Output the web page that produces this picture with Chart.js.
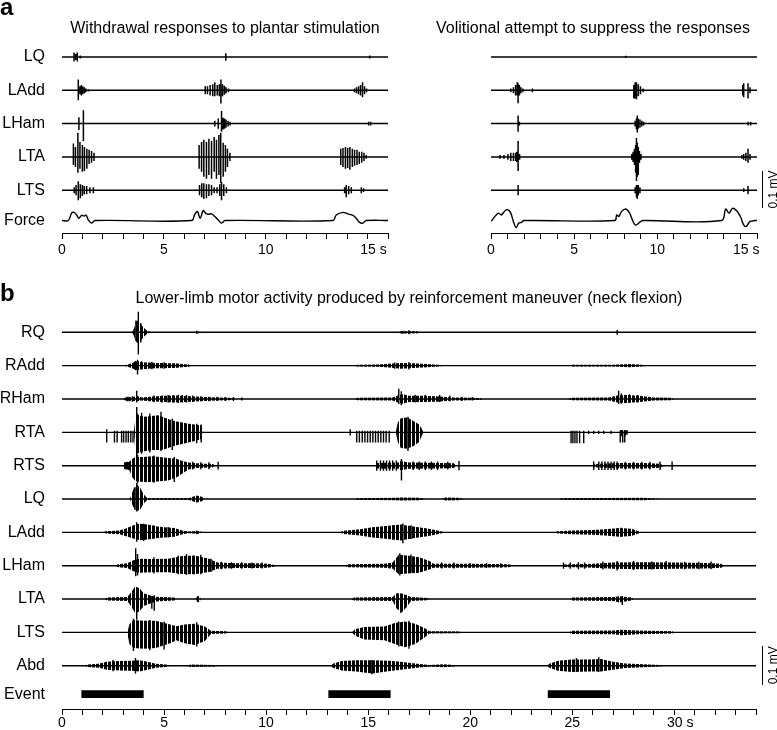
<!DOCTYPE html>
<html>
<head>
<meta charset="utf-8">
<script src="https://cdn.jsdelivr.net/npm/chart.js@4.4.1/dist/chart.umd.min.js"></script>
<style>
  body { margin: 0; background: #fff; width: 777px; height: 730px; position: relative; overflow: hidden;
         font-family: "Liberation Sans", Arial, sans-serif; color: #000; }
  canvas { position: absolute; }
  .ttl { position: absolute; font-size: 16px; line-height: 16px; text-align: center; white-space: nowrap; z-index: 2; }
  .lbl { position: absolute; font-size: 24px; line-height: 24px; font-weight: bold; z-index: 2; }
</style>
</head>
<body>
<div class="lbl" style="left:0px;top:-5px">a</div>
<div class="ttl" style="left:62px;width:326px;top:20px">Withdrawal responses to plantar stimulation</div>
<div class="ttl" style="left:429px;width:328px;top:20px">Volitional attempt to suppress the responses</div>
<div class="lbl" style="left:0px;top:281px">b</div>
<div class="ttl" style="left:62px;width:694px;top:290px">Lower-limb motor activity produced by reinforcement maneuver (neck flexion)</div>

<canvas id="wd" width="400" height="265" style="left:0;top:0"></canvas>
<canvas id="sp" width="377" height="265" style="left:400px;top:0"></canvas>
<canvas id="rf" width="777" height="430" style="left:0;top:300px"></canvas>

<script>
// ---- panel a: rows, time axis (s), amplitudes in µV ----
const rowsA = ["LQ", "LAdd", "LHam", "LTA", "LTS", "Force"];
const baseA = [0, -90, -180, -270, -360, -442];
const xValsA = [0, 5, 10, 15];
const xLabelsA = ["0", "5", "10", "15 s"];

// spikes: [time s, up µV, down µV]
const wdLQ = [[0.59,12,12],[0.67,8,8],[0.75,12,12],[0.9,4,4],[8.04,10,10],[15.1,4,4]];
const wdLAdd = [[0.8,29,27],[0.88,11,11],[0.95,14,14],[1.02,11,11],[1.1,8,8],[1.17,5,5],[1.3,3,3],
  [7.03,11,11],[7.14,11,11],[7.27,14,14],[7.4,16,16],[7.5,22,16],[7.62,14,14],[7.72,16,16],[7.8,29,36],
  [7.88,16,16],[7.97,12,12],[8.05,8,8],[8.17,5,5],
  [14.35,5,5],[14.45,8,8],[14.55,11,11],[14.65,14,14],[14.75,22,19],[14.85,11,11],[14.95,5,5]];
const wdLHam = [[0.83,17,17],[1.05,36,47],[7.5,8,8],[7.67,14,14],[7.83,34,22],[7.9,16,16],[7.97,14,14],
  [8.05,11,11],[8.15,8,8],[8.25,5,5],[15.05,5,5],[15.15,5,5]];
const wdLTA = [[0.56,36,22],[0.66,27,27],[0.78,65,43],[0.88,40,32],[1.0,32,40],[1.1,27,38],[1.22,22,32],
  [1.33,19,19],[1.45,16,16],[1.57,11,11],
  [6.73,32,32],[6.85,40,40],[6.96,46,54],[7.09,40,59],[7.21,49,49],[7.34,43,59],[7.47,54,40],[7.58,46,59],
  [7.7,59,49],[7.79,65,70],[7.91,38,54],[8.02,32,40],[8.12,22,27],[8.24,11,11],
  [13.68,22,22],[13.79,24,27],[13.91,27,32],[14.02,24,30],[14.13,27,35],[14.25,22,27],[14.36,19,24],
  [14.48,19,22],[14.59,14,19],[14.71,14,16],[14.82,11,11],[14.93,5,5]];
const wdLTS = [[0.6,8,8],[0.69,14,14],[0.8,24,27],[0.9,16,22],[1.0,14,16],[1.09,11,11],[1.21,11,11],
  [1.37,8,8],[1.54,8,8],
  [6.75,14,14],[6.86,19,19],[6.96,19,24],[7.09,16,22],[7.21,16,16],[7.34,14,14],[7.47,8,8],[7.61,8,8],
  [7.74,16,16],[7.83,22,27],[7.94,16,16],[8.07,8,8],
  [13.87,8,8],[13.95,14,19],[14.07,11,11],[14.2,8,8],[14.69,8,8],[14.8,5,5]];
// force: [time s, deflection]
const wdForce = [[0,0],[0.31,0],[0.47,20],[0.59,22],[0.72,15],[0.83,6],[0.96,14],[1.09,12],[1.18,15],
  [1.29,2],[1.45,-7],[1.62,0],[6.36,0],[6.52,17],[6.65,24],[6.78,6],[6.93,27],[7.04,20],[7.17,17],
  [7.34,18],[7.5,11],[7.66,2],[7.83,-7],[8.0,0],[13.3,0],[13.46,15],[13.79,22],[14.03,18],[14.28,14],
  [14.44,6],[14.6,-5],[14.77,-7],[14.93,0],[16,0]];

const spLQ = [[8.1,3,3]];
const spLAdd = [[1.19,5,5],[1.35,8,8],[1.48,14,14],[1.58,22,14],[1.63,19,35],[1.71,14,14],[1.8,8,8],
  [1.92,5,5],[2.49,5,5],[8.59,14,22],[8.67,22,22],[8.75,22,24],[8.86,16,16],[8.99,11,11],[9.15,5,5],
  [15.14,14,14],[15.2,19,19],[15.46,19,22],[15.58,8,8]];
const spLHam = [[1.63,22,22],[1.71,5,5],[8.67,8,8],[8.75,14,16],[8.8,22,24],[8.86,14,14],[8.96,11,11],
  [9.07,8,8],[9.18,5,5],[15.46,5,5],[15.62,5,5]];
const spLTA = [[0.54,5,5],[0.78,5,5],[1.02,8,8],[1.19,11,11],[1.35,11,11],[1.48,11,11],[1.55,14,14],
  [1.63,43,38],[1.72,8,8],[8.47,8,8],[8.55,14,14],[8.63,22,22],[8.7,32,43],[8.75,51,65],[8.8,38,54],
  [8.86,27,49],[8.93,16,16],[9.02,8,8],[15.09,5,5],[15.2,8,8],[15.33,11,11],[15.46,22,16],[15.58,8,8]];
const spLTS = [[1.63,14,14],[8.67,8,8],[8.75,14,19],[8.8,14,24],[8.86,14,14],[8.96,8,8],[15.2,5,5],[15.46,11,11]];
const spForce = [[0,0],[0.05,0],[0.29,14],[0.46,20],[0.62,15],[0.86,27],[1.03,29],[1.19,20],[1.35,-3],
  [1.51,-19],[1.67,-7],[1.84,-5],[1.97,0],[7.45,0],[7.56,15],[7.69,11],[7.85,24],[8.1,31],[8.34,20],
  [8.5,2],[8.67,-12],[8.83,-9],[8.99,-3],[9.15,0],[13.87,0],[14.11,31],[14.32,20],[14.52,33],[14.76,27],
  [15.0,11],[15.2,-12],[15.36,-16],[15.57,-3],[15.9,0],[16,0]];

// ---- panel b ----
const rowsB = ["RQ", "RAdd", "RHam", "RTA", "RTS", "LQ", "LAdd", "LHam", "LTA", "LTS", "Abd", "Event"];
const baseB = [0, -85.5, -171, -256.5, -342, -427.5, -513, -598.5, -684, -769.5, -855, -927.8];
const xValsB = [0, 5, 10, 15, 20, 25, 30];
const xLabelsB = ["0", "5", "10", "15", "20", "25", "30 s"];
const eventBars = [[0.95, 4.0], [13.05, 16.1], [23.8, 26.85]];

// envelopes: [time s, upper µV, lower µV]
const rfRQspk = [[3.74,53,57],[3.62,30,22],[3.86,24,26],[6.6,4,4],[16.7,4,4],[17.0,5,5],[17.4,3,3],[27.2,6,6]];
const rfRQenv = [[3.4,0,0],[3.48,4,4],[3.56,15,15],[3.66,30,26],[3.78,27,28],[3.9,18,19],[4.0,12,12],
  [4.12,6,6],[4.25,2,2],[4.4,0,0],[6.4,0,0],[6.6,3,3],[6.9,0,0],[16.4,0,0],[16.6,3,3],[17.2,3,3],[17.6,0,0]];
const rfRAddspk = [[3.6,12,12],[3.7,15,23],[3.9,11,10],[4.4,10,9],[5.0,9,8],[17.0,9,10],[16.3,8,8]];
const rfRAddenv = [[3.05,0,0],[3.17,2,2],[3.33,5,5],[3.58,10,10],[3.75,11,11],[3.91,9,9],[4.23,8,8],
  [4.56,7,7],[4.89,7,7],[5.21,6,6],[5.54,6,6],[5.87,4,4],[6.19,3,3],[6.4,0,0],[14.2,0,0],[14.5,2,2],
  [15.5,3,3],[16.0,5,5],[16.6,7,8],[17.2,6,6],[17.9,4,4],[18.4,2,2],[18.8,0,0],[24.8,0,0],[25.0,2,2],
  [27.0,2,2],[27.8,4,4],[28.4,2,2],[28.8,0,0]];
const rfRHamspk = [[3.2,6,6],[3.3,6,6],[3.45,7,7],[3.66,21,9],[4.5,9,8],[4.9,9,9],[5.2,10,9],[5.45,10,9],
  [5.7,11,10],[5.9,10,9],[6.1,10,9],[6.4,9,8],[6.8,7,6],[7.2,6,6],[7.6,6,5],[8.0,5,5],
  [8.4,5,5],[8.81,4,4],[16.5,26,13],[16.62,20,16],[17.3,11,9],[17.8,10,8],[18.5,10,8],[19.0,9,6],
  [19.6,6,5],[20.1,5,4],[27.27,21,13],[27.4,14,12],[27.8,12,10],[28.2,10,9]];
const rfRHamenv = [[3.0,0,0],[3.1,4,4],[3.5,5,5],[3.66,8,6],[3.9,4,4],[4.3,6,6],[5.0,8,8],[5.6,9,9],
  [6.3,7,7],[7.0,5,5],[7.6,4,4],[8.2,3,3],[8.5,0,0],[14.3,0,0],[14.5,3,3],[16.2,4,4],[16.45,9,9],
  [16.7,12,12],[17.0,8,8],[17.6,8,8],[18.3,7,7],[19.2,4,4],[20.0,3,3],[20.5,2,2],[20.6,0,0],[24.8,0,0],
  [24.95,3,3],[26.8,4,4],[27.2,9,9],[27.6,10,10],[28.3,8,8],[29.0,4,4],[29.8,3,3],[30.0,0,0]];
const rfRTAspk = [[2.19,8,26],[2.57,4,26],[2.7,4,26],[2.92,4,26],[3.02,4,26],[3.14,4,26],[3.25,4,26],
  [3.37,4,26],[3.48,4,26],[3.66,65,63],[3.9,50,55],[4.3,48,52],[4.85,53,48],[5.4,35,45],[6.6,22,28],
  [6.82,20,26],[14.12,8,8],[14.44,4,26],[14.57,4,26],[14.71,4,26],[14.84,4,26],[14.97,4,26],[15.1,4,26],
  [15.23,4,26],[15.36,4,26],[15.49,4,26],[15.62,4,26],[15.75,4,26],[15.88,4,26],[16.03,4,26],
  [16.95,40,48],[24.94,4,28],[25.03,4,28],[25.13,4,28],[25.23,4,28],[25.36,4,28],[25.56,4,28],
  [25.8,4,4],[26.05,4,4],[26.29,4,4],[26.54,4,4],[26.9,4,4],[27.35,4,26],[27.47,4,26],[27.57,4,26],[27.68,6,6]];
const rfRTAenv = [[3.52,0,0],[3.58,30,40],[3.66,50,55],[3.8,42,52],[4.1,40,48],[4.4,42,45],[4.7,44,45],
  [5.0,38,44],[5.3,32,38],[5.6,28,33],[5.9,25,30],[6.2,22,26],[6.5,20,22],[6.8,18,18],[6.88,0,0],
  [16.35,0,0],[16.45,25,25],[16.6,36,40],[16.9,38,42],[17.2,30,36],[17.5,20,25],[17.62,10,10],[17.7,0,0],
  [27.3,0,0],[27.35,6,10],[27.6,6,10],[27.7,0,0]];
const rfRTSspk = [[3.09,9,9],[3.2,10,10],[3.7,28,45],[4.5,26,44],[5.5,22,42],[6.4,10,10],[6.8,9,9],
  [7.2,9,9],[7.65,10,10],[15.42,13,13],[15.6,13,13],[15.75,13,13],[15.9,13,13],[16.05,13,13],[16.2,13,13],
  [16.38,13,13],[16.63,17,38],[17.2,11,11],[17.5,11,11],[17.8,11,11],[18.1,11,11],[18.4,11,11],
  [18.9,10,10],[19.45,12,12],[26.05,11,11],[26.3,11,11],[26.45,11,11],
  [26.6,11,11],[26.75,11,11],[26.9,11,11],[27.05,11,11],[27.2,11,11],[27.6,10,10],[28.0,10,10],
  [28.4,10,10],[28.8,10,10],[29.3,11,11],[29.89,11,11]];
const rfRTSenv = [[3.0,0,0],[3.05,8,8],[3.3,10,12],[3.45,18,30],[3.6,22,40],[4.0,22,42],[4.4,24,42],
  [4.8,22,40],[5.2,20,38],[5.6,18,30],[5.9,12,20],[6.2,8,10],[6.6,6,6],[7.0,5,5],[7.4,4,4],[7.5,0,0],
  [15.35,0,0],[15.45,7,7],[16.5,8,8],[16.6,12,12],[17.0,8,8],[18.5,7,7],[19.2,6,6],[19.3,0,0],
  [26.0,0,0],[26.1,4,4],[27.3,7,7],[28.5,7,7],[29.3,5,5],[29.5,0,0]];
const rfLQspk = [[3.58,30,28],[3.66,41,32]];
const rfLQenv = [[3.3,0,0],[3.35,4,4],[3.5,26,21],[3.66,38,30],[3.82,30,28],[3.99,13,13],[4.15,4,4],
  [4.3,2,2],[6.2,2,2],[6.4,6,6],[6.6,9,9],[6.85,6,6],[7.0,0,0],[14.3,0,0],[14.5,2,2],[16.3,3,3],
  [16.6,4,4],[17.5,3,3],[17.8,0,0],[18.6,0,0],[18.8,4,4],[19.4,3,3],[19.7,0,0],[24.3,0,0],[24.5,2,2],
  [28.5,3,3],[29.3,0,0]];
const rfLAddspk = [[3.66,26,24],[4.0,22,22],[3.3,14,12],[4.5,18,16],[5.2,14,13],[16.7,23,28],[16.2,18,18],
  [17.1,18,17],[27.4,12,12]];
const rfLAddenv = [[2.0,0,0],[2.15,3,3],[2.8,5,5],[3.1,9,9],[3.5,18,16],[3.8,22,20],[4.2,20,18],
  [4.6,16,15],[5.0,13,13],[5.5,11,11],[5.9,5,5],[6.2,2,2],[6.45,3,3],[6.6,5,5],[6.75,2,2],[7.0,0,0],
  [13.6,0,0],[13.8,4,4],[14.6,8,8],[15.2,13,13],[16.0,17,17],[16.6,20,21],[17.2,15,15],[17.9,10,10],
  [18.4,5,5],[18.6,2,2],[18.8,0,0],[24.1,0,0],[24.3,3,3],[25.0,5,5],[26.0,6,6],[26.6,8,8],[27.3,11,11],
  [27.9,9,9],[28.25,3,3],[28.4,0,0]];
const rfLHamspk = [[3.61,45,27],[3.7,30,25],[4.5,22,20],[5.7,26,22],[6.1,30,24],[6.8,28,22],[7.3,18,16],
  [7.8,10,9],[8.3,9,8],[8.8,9,8],[9.3,8,7],[9.8,8,7],
  [16.55,32,25],[17.1,29,18],[18.6,8,7],[19.2,8,7],[20.0,7,6],[20.8,7,6],[21.5,6,5],
  [24.57,8,8],[24.9,8,8],[25.3,9,9],[25.6,8,8],[26.5,11,10],[27.2,12,12],
  [28.0,12,11],[28.9,11,10],[29.6,12,10],[30.5,10,9],[31.2,10,9],[31.8,11,9]];
const rfLHamenv = [[2.6,0,0],[2.75,4,4],[3.2,6,6],[3.5,14,14],[3.8,18,18],[4.4,17,17],[5.2,18,17],
  [5.9,25,21],[6.5,26,22],[7.2,18,16],[7.6,8,8],[8.5,6,6],[9.5,6,6],[10.1,5,5],[10.4,2,2],[10.6,0,0],
  [13.85,0,0],[14.0,4,4],[15.8,5,5],[16.2,8,8],[16.5,28,22],[16.9,26,20],[17.5,22,18],[18.0,12,10],
  [18.2,5,5],[20.0,5,5],[21.9,4,4],[22.1,0,0],[24.5,0,0],[24.6,3,3],[26.0,5,5],[27.0,8,8],[28.5,9,9],
  [30.0,8,8],[31.5,7,7],[32.3,5,5],[32.4,0,0]];
const rfLTAspk = [[3.66,30,53],[4.4,8,25],[4.52,10,30],[6.68,8,8],[16.6,12,36],[27.45,8,15]];
const rfLTAenv = [[2.1,0,0],[2.2,4,4],[3.2,5,5],[3.4,18,20],[3.58,32,36],[3.8,28,32],[4.0,15,18],
  [4.3,10,12],[4.6,6,6],[5.5,4,4],[5.6,0,0],[6.55,0,0],[6.62,7,7],[6.74,7,7],[6.8,0,0],[14.2,0,0],
  [14.3,4,4],[16.2,5,5],[16.4,15,25],[16.65,14,34],[16.9,10,20],[17.1,5,5],[17.9,3,3],[18.0,0,0],
  [24.9,0,0],[25.0,4,4],[27.0,5,5],[27.3,7,9],[27.9,4,4],[28.0,0,0]];
const rfLTSspk = [[3.5,35,48],[4.3,32,46],[5.0,28,44],[6.6,26,36],[16.5,28,36],[17.0,30,42]];
const rfLTSenv = [[3.2,0,0],[3.3,20,30],[3.5,32,40],[4.0,30,42],[4.6,30,40],[5.3,20,28],[5.6,16,20],
  [6.0,20,28],[6.5,22,32],[7.0,15,22],[7.3,4,4],[8.0,3,3],[8.2,0,0],[14.2,0,0],[14.35,8,8],[14.8,14,18],
  [15.8,15,20],[16.3,24,30],[16.8,28,38],[17.3,22,30],[17.8,10,12],[18.0,3,3],[19.5,2,2],[19.6,0,0],
  [24.8,0,0],[25.0,4,4],[27.0,5,5],[27.4,7,7],[28.2,5,5],[29.9,3,3],[30.0,0,0]];
const rfAbdspk = [[2.5,15,14],[3.6,20,20],[15.18,15,22],[25.2,20,16],[26.3,22,16]];
const rfAbdenv = [[1.1,0,0],[1.25,3,3],[1.8,5,5],[2.2,10,10],[2.8,12,12],[3.4,13,13],[3.8,14,15],
  [4.2,10,10],[4.6,5,5],[5.1,3,3],[5.3,0,0],[6.1,0,0],[6.3,3,3],[7.5,2,2],[7.7,0,0],[13.1,0,0],
  [13.3,6,6],[13.7,12,12],[14.4,14,15],[15.2,14,20],[16.0,13,14],[16.6,10,10],[17.4,5,5],[18.0,2,2],
  [18.7,4,4],[19.2,2,2],[19.4,0,0],[23.75,0,0],[23.9,6,6],[24.3,13,13],[25.0,16,16],[25.8,16,15],
  [26.4,17,15],[27.0,10,10],[27.6,6,6],[28.5,4,4],[29.3,2,2],[29.5,0,0]];

Chart.defaults.font.family = '"Liberation Sans", Arial, sans-serif';
Chart.defaults.color = '#000';

// vertical hatch so dense bursts read as many thin spikes
const hatch = (() => {
  const c = document.createElement('canvas');
  c.width = 4; c.height = 1;
  const g = c.getContext('2d');
  g.fillStyle = '#000';
  g.fillRect(0, 0, 3, 1);
  return g.createPattern(c, 'repeat');
})();

// spike train -> polyline along the baseline
function spikeLine(spikes, base, tEnd, w) {
  const pts = [{x: 0, y: base}];
  spikes.slice().sort((a, b) => a[0] - b[0]).forEach(([t, up, dn]) => {
    pts.push({x: t, y: base}, {x: t, y: base + up}, {x: t, y: base - dn}, {x: t, y: base});
  });
  pts.push({x: tEnd, y: base});
  return {data: pts, borderColor: '#000', borderWidth: w, pointRadius: 0, tension: 0, fill: false};
}

function envelope(env, base) {
  return [
    {data: env.map(([t, u]) => ({x: t, y: base + u})), borderWidth: 0,
     pointRadius: 0, tension: 0, fill: false},
    {data: env.map(([t, u, d]) => ({x: t, y: base - d})), borderWidth: 0,
     pointRadius: 0, tension: 0, fill: '-1', backgroundColor: hatch}
  ];
}

function forceLine(pts, base) {
  return {data: pts.map(([t, v]) => ({x: t, y: base + v})), borderColor: '#000', borderWidth: 1.4,
          pointRadius: 0, tension: 0.35, fill: false};
}

const scaleBar = {
  id: 'scaleBar',
  afterDraw(chart, args, opts) {
    if (!opts || opts.from === undefined) return;
    const ys = chart.scales.y, ctx = chart.ctx;
    const x = Math.round(chart.chartArea.right + opts.dx) + 0.5;
    const y0 = ys.getPixelForValue(opts.from), y1 = ys.getPixelForValue(opts.to);
    ctx.save();
    ctx.strokeStyle = '#000';
    ctx.lineWidth = 1;
    ctx.beginPath(); ctx.moveTo(x, y0); ctx.lineTo(x, y1); ctx.stroke();
    ctx.translate(x + 11, (y0 + y1) / 2);
    ctx.rotate(-Math.PI / 2);
    ctx.font = '12px "Liberation Sans", Arial, sans-serif';
    ctx.fillStyle = '#000';
    ctx.textAlign = 'center';
    ctx.textBaseline = 'middle';
    ctx.fillText('0.1 mV', 0, 0);
    ctx.restore();
  }
};

function xAxis(tMax, vals, labels, h, pad) {
  return {
    type: 'linear', min: 0, max: tMax,
    afterFit: s => { s.height = h; },
    ticks: {
      stepSize: 1, autoSkip: false, maxRotation: 0, padding: pad, font: {size: 14},
      callback: v => {
        const i = vals.indexOf(Math.round(v));
        if (i < 0) return '';
        // keep the number centred on its tick, unit trails to the right
        return labels[i].endsWith(' s') ? '\u00a0\u00a0\u00a0' + labels[i] : labels[i];
      }
    },
    grid: {drawOnChartArea: false, drawTicks: true, tickLength: 6, color: '#000', lineWidth: 1},
    border: {display: true, color: '#000', width: 1}
  };
}

function yAxis(rows, bases, yMin, yMax, show) {
  return {
    type: 'linear', min: yMin, max: yMax, display: show,
    afterFit: s => { s.width = 62; s.paddingTop = 0; s.paddingBottom = 0; },
    afterBuildTicks: s => { s.ticks = bases.map(v => ({value: v})); },
    ticks: {autoSkip: false, padding: 17, font: {size: 16}, callback: (v, i) => rows[i]},
    grid: {display: false, drawTicks: false},
    border: {display: false}
  };
}

function makeChart(id, datasets, scales, padding, bar) {
  return new Chart(document.getElementById(id), {
    type: 'line',
    data: {datasets},
    options: {
      responsive: false, animation: false, events: [],
      layout: {padding},
      plugins: {legend: {display: false}, tooltip: {enabled: false}, scaleBar: bar || {}},
      scales
    },
    plugins: [scaleBar]
  });
}

// panel a, left
const wdTraces = [wdLQ, wdLAdd, wdLHam, wdLTA, wdLTS];
const wdSets = wdTraces.map((s, i) => spikeLine(s, baseA[i], 16, 1.5));
wdSets.push(forceLine(wdForce, baseA[5]));
makeChart('wd', wdSets,
  {x: xAxis(16, xValsA, xLabelsA, 32, 3), y: yAxis(rowsA, baseA, -475.7, 45.9, true)},
  {left: 0, right: 12, top: 40, bottom: 0});

// panel a, right
const spTraces = [spLQ, spLAdd, spLHam, spLTA, spLTS];
const spSets = spTraces.map((s, i) => spikeLine(s, baseA[i], 16, 1.5));
spSets.push(forceLine(spForce, baseA[5]));
makeChart('sp', spSets,
  {x: xAxis(16, xValsA, xLabelsA, 32, 3), y: yAxis(rowsA, baseA, -475.7, 45.9, false)},
  {left: 29, right: 20, top: 40, bottom: 0},
  {from: -308, to: -408, dx: 5});

// panel b
const rfSpk = [rfRQspk, rfRAddspk, rfRHamspk, rfRTAspk, rfRTSspk, rfLQspk, rfLAddspk, rfLHamspk, rfLTAspk, rfLTSspk, rfAbdspk];
const rfEnv = [rfRQenv, rfRAddenv, rfRHamenv, rfRTAenv, rfRTSenv, rfLQenv, rfLAddenv, rfLHamenv, rfLTAenv, rfLTSenv, rfAbdenv];
const rfSets = [];
rfSpk.forEach((s, i) => {
  rfSets.push(...envelope(rfEnv[i], baseB[i]));
  rfSets.push(spikeLine(s, baseB[i], 34, 1.4));
});
const evPts = [];
eventBars.forEach(([a, b]) => {
  evPts.push({x: a, y: baseB[11]}, {x: b, y: baseB[11]}, {x: b + 0.01, y: null});
});
rfSets.push({data: evPts, borderColor: '#000', borderWidth: 7.7, borderCapStyle: 'butt',
             pointRadius: 0, spanGaps: false, fill: false});
makeChart('rf', rfSets,
  {x: xAxis(34, xValsB, xLabelsB, 21, 0), y: yAxis(rowsB, baseB, -965.9, 62.3, true)},
  {left: 0, right: 21, top: 8, bottom: 0},
  {from: -804, to: -904, dx: 6});
</script>
</body>
</html>
